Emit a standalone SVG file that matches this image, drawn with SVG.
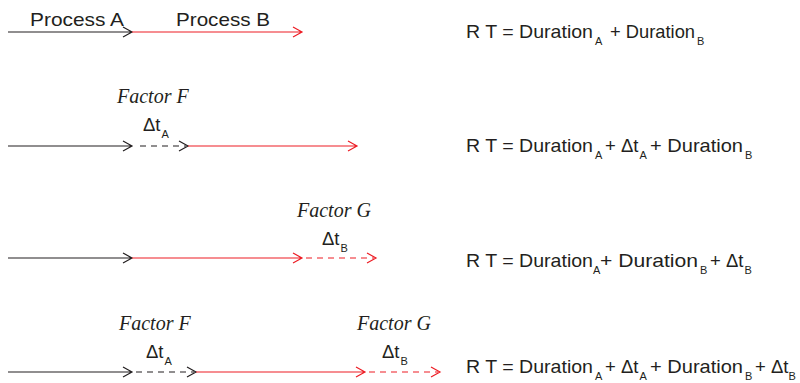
<svg xmlns="http://www.w3.org/2000/svg" width="800" height="383" viewBox="0 0 800 383">
<style>
.s{font-family:"Liberation Sans",Arial,sans-serif;font-size:18.5px;fill:#231f20}
.sub{font-size:11px}
.f{font-family:"Liberation Serif","Times New Roman",serif;font-style:italic;font-size:20px;fill:#231f20}
.k{stroke:#231f20;stroke-width:1.2;fill:none}
.r{stroke:#ed1c24;stroke-width:1.2;fill:none}
.d{stroke-dasharray:6,5}
</style>
<rect width="800" height="383" fill="#fff"/>
<g id="connectors">
<path class="k" d="M8,32H132M123,27L132,32L123,37"/>
<path class="r" d="M132,32H302M293,27L302,32L293,37"/>
<path class="k" d="M8,146H132M123,141L132,146L123,151"/>
<path class="k d" d="M140,146H186"/>
<path class="k" d="M179,141L188,146L179,151"/>
<path class="r" d="M188,146H357M348,141L357,146L348,151"/>
<path class="k" d="M8,258H132M123,253L132,258L123,263"/>
<path class="r" d="M132,258H302M293,253L302,258L293,263"/>
<path class="r d" d="M306,258H374"/>
<path class="r" d="M367,253L376,258L367,263"/>
<path class="k" d="M8,372H132M123,367L132,372L123,377"/>
<path class="k d" d="M136,372H194"/>
<path class="k" d="M187,367L196,372L187,377"/>
<path class="r" d="M196,372H365M356,367L365,372L356,377"/>
<path class="r d" d="M369,372H438"/>
<path class="r" d="M431,367L440,372L431,377"/>
</g>
<g id="labels-row1">
<text class="s" x="30" y="26" textLength="94" lengthAdjust="spacingAndGlyphs">Process A</text>
<text class="s" x="176" y="26" textLength="94" lengthAdjust="spacingAndGlyphs">Process B</text>
</g>
<g id="labels-row2">
<text class="f" x="117" y="103">Factor F</text>
<text class="s" x="143" y="131">Δt<tspan class="sub" dx="1" dy="7">A</tspan></text>
</g>
<g id="labels-row3">
<text class="f" x="297" y="217">Factor G</text>
<text class="s" x="322" y="245">Δt<tspan class="sub" dx="1" dy="7">B</tspan></text>
</g>
<g id="labels-row4">
<text class="f" x="119" y="330">Factor F</text>
<text class="s" x="146" y="358">Δt<tspan class="sub" dx="1" dy="7">A</tspan></text>
<text class="f" x="357" y="330">Factor G</text>
<text class="s" x="382" y="358">Δt<tspan class="sub" dx="1" dy="7">B</tspan></text>
</g>
<g id="eq1">
<text class="s" x="466" y="38"><tspan textLength="127" lengthAdjust="spacingAndGlyphs">R T = Duration</tspan><tspan class="sub" x="595" dy="7">A</tspan><tspan x="610" dy="-7" textLength="85" lengthAdjust="spacingAndGlyphs">+ Duration</tspan><tspan class="sub" x="697" dy="7">B</tspan></text>
</g>
<g id="eq2">
<text class="s" x="466" y="152"><tspan textLength="127" lengthAdjust="spacingAndGlyphs">R T = Duration</tspan><tspan class="sub" x="595" dy="7">A</tspan><tspan x="605" dy="-7">+ Δt</tspan><tspan class="sub" dx="1" dy="7">A</tspan><tspan x="650" dy="-7" textLength="93" lengthAdjust="spacingAndGlyphs">+ Duration</tspan><tspan class="sub" x="745" dy="7">B</tspan></text>
</g>
<g id="eq3">
<text class="s" x="466" y="267"><tspan textLength="127" lengthAdjust="spacingAndGlyphs">R T = Duration</tspan><tspan class="sub" x="593" dy="7">A</tspan><tspan x="600" dy="-7" textLength="98" lengthAdjust="spacingAndGlyphs">+ Duration</tspan><tspan class="sub" x="700" dy="7">B</tspan><tspan x="710" dy="-7">+ Δt</tspan><tspan class="sub" dx="1" dy="7">B</tspan></text>
</g>
<g id="eq4">
<text class="s" x="466" y="373"><tspan textLength="127" lengthAdjust="spacingAndGlyphs">R T = Duration</tspan><tspan class="sub" x="595" dy="7">A</tspan><tspan x="605" dy="-7">+ Δt</tspan><tspan class="sub" dx="1" dy="7">A</tspan><tspan x="650" dy="-7" textLength="93" lengthAdjust="spacingAndGlyphs">+ Duration</tspan><tspan class="sub" x="745" dy="7">B</tspan><tspan x="755" dy="-7">+ Δt</tspan><tspan class="sub" dx="0" dy="7">B</tspan></text>
</g>
</svg>
